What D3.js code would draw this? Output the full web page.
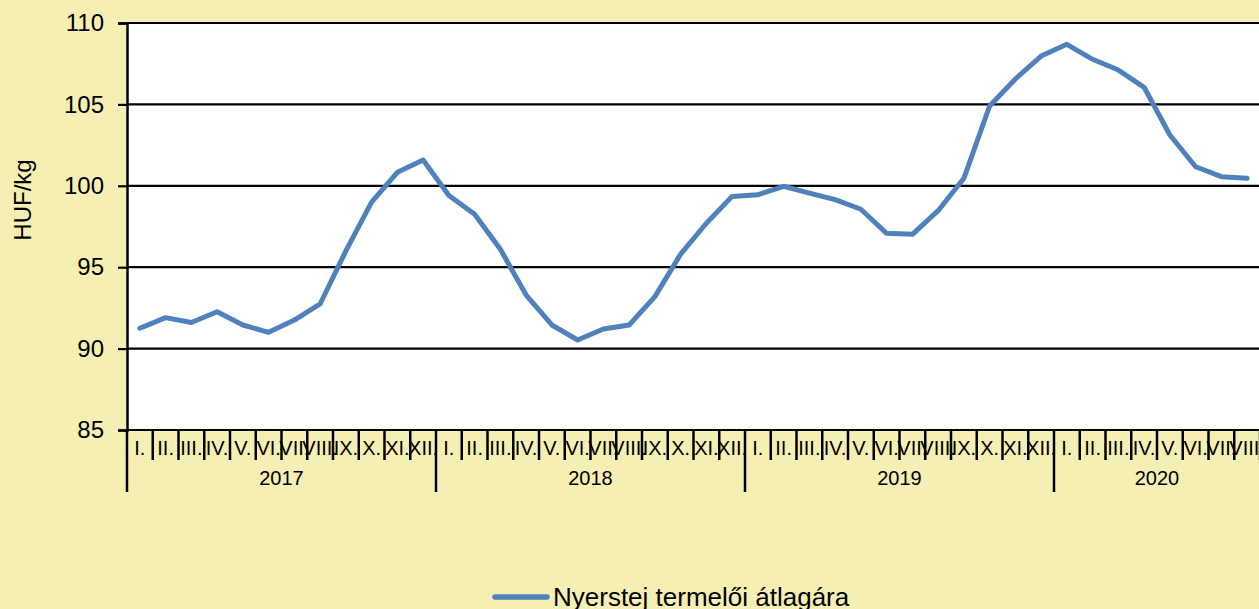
<!DOCTYPE html>
<html>
<head>
<meta charset="utf-8">
<script src="https://cdn.jsdelivr.net/npm/d3@7"></script>
<style>
  html, body { margin: 0; padding: 0; background: #F5EFB4; overflow: hidden; }
  svg { display: block; font-family: "Liberation Sans", Arial, sans-serif; }
</style>
</head>
<body>
<svg id="chart" width="1259" height="609"></svg>
<script>
const years = ["2017", "2018", "2019", "2020"];
const monthNames = ["I.", "II.", "III.", "IV.", "V.", "VI.", "VII.", "VIII.", "IX.", "X.", "XI.", "XII."];
const monthsPerYear = [12, 12, 12, 8];
const seriesName = "Nyerstej termelői átlagára";
const values2017 = [91.25, 91.9, 91.6, 92.26, 91.45, 91.0, 91.75, 92.74, 96.0, 99.0, 100.83, 101.58];
const values2018 = [99.4, 98.25, 96.1, 93.29, 91.45, 90.53, 91.2, 91.45, 93.19, 95.8, 97.7, 99.35];
const values2019 = [99.45, 99.97, 99.55, 99.15, 98.56, 97.08, 97.02, 98.47, 100.46, 104.9, 106.56, 107.97];
const values2020 = [108.69, 107.77, 107.11, 106.05, 103.12, 101.17, 100.56, 100.46];
const yTicks = [85, 90, 95, 100, 105, 110];
const yLabel = "HUF/kg";

(function () {
const allValues = [values2017, values2018, values2019, values2020];
const data = [];
years.forEach((yr, yi) => {
  for (let m = 0; m < monthsPerYear[yi]; m++) {
    data.push({ key: yr + "-" + m, year: yr, month: monthNames[m], value: allValues[yi][m] });
  }
});

const svg = d3.select("#chart");
const pLeft = 127, pRight = 1260, pTop = 23, pBottom = 430;

const x = d3.scaleBand().domain(data.map(d => d.key)).range([pLeft, pRight]).padding(0);
const y = d3.scaleLinear().domain([85, 110]).range([pBottom, pTop]);

svg.append("rect").attr("x", pLeft).attr("y", pTop).attr("width", pRight - pLeft).attr("height", pBottom - pTop).attr("fill", "#FFFFFF");

svg.append("g").selectAll("line").data(yTicks).join("line")
  .attr("x1", pLeft).attr("x2", pRight)
  .attr("y1", d => y(d)).attr("y2", d => y(d))
  .attr("stroke", "#000").attr("stroke-width", 2.2);

const yAxis = d3.axisLeft(y).tickValues(yTicks).tickSize(9).tickPadding(14).tickFormat(d3.format("d"));
const gy = svg.append("g").attr("transform", `translate(${pLeft},0)`).call(yAxis);
gy.select(".domain").attr("stroke", "#000").attr("stroke-width", 2.5);
gy.selectAll(".tick line").attr("stroke", "#000").attr("stroke-width", 2.2);
gy.selectAll(".tick text").attr("font-size", 24).attr("fill", "#000")
  .attr("font-family", "'Liberation Sans', Arial, sans-serif");

const bw = x.bandwidth();
const gx = svg.append("g");
const boundaries = data.map(d => ({ pos: x(d.key), long: d.month === "I." }));
boundaries.push({ pos: x(data[data.length - 1].key) + bw, long: false });
gx.selectAll("line.mt").data(boundaries).join("line")
  .attr("class", "mt")
  .attr("x1", d => d.pos).attr("x2", d => d.pos)
  .attr("y1", pBottom).attr("y2", d => d.long ? 492 : 460)
  .attr("stroke", "#000").attr("stroke-width", 2.5);

gx.selectAll("text.ml").data(data).join("text")
  .attr("class", "ml")
  .attr("x", d => x(d.key) + bw / 2)
  .attr("y", 455)
  .attr("text-anchor", "middle")
  .attr("font-size", 20)
  .attr("fill", "#000")
  .text(d => d.month);

const yearSpans = years.map(yr => {
  const ds = data.filter(d => d.year === yr);
  return { year: yr, start: x(ds[0].key), end: x(ds[ds.length - 1].key) + bw };
});
gx.selectAll("text.yl").data(yearSpans).join("text")
  .attr("class", "yl")
  .attr("x", d => (d.start + d.end) / 2)
  .attr("y", 485)
  .attr("text-anchor", "middle")
  .attr("font-size", 20)
  .attr("fill", "#000")
  .text(d => d.year);

svg.append("text")
  .attr("transform", "translate(31,200) rotate(-90)")
  .attr("text-anchor", "middle")
  .attr("font-size", 24)
  .attr("fill", "#000")
  .text(yLabel);

const line = d3.line().x(d => x(d.key) + bw / 2).y(d => y(d.value));
svg.append("path").datum(data)
  .attr("d", line)
  .attr("fill", "none")
  .attr("stroke", "#4F81BD")
  .attr("stroke-width", 5)
  .attr("stroke-linejoin", "round")
  .attr("stroke-linecap", "round");

const lg = svg.append("g");
lg.append("line").attr("x1", 495).attr("x2", 547).attr("y1", 597).attr("y2", 597)
  .attr("stroke", "#4F81BD").attr("stroke-width", 5.5).attr("stroke-linecap", "round");
lg.append("text").attr("x", 553).attr("y", 606).attr("font-size", 26).attr("fill", "#000").text(seriesName);
})();
</script>
</body>
</html>
